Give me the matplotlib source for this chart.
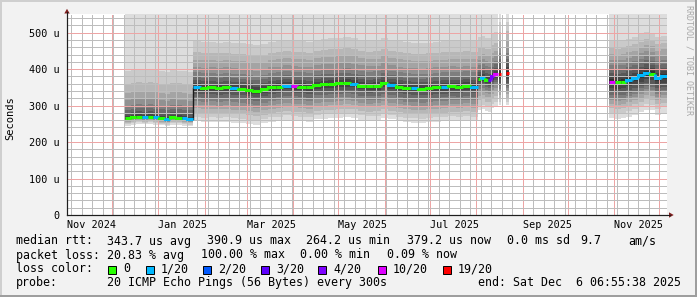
import numpy as np
import pandas as pd
import matplotlib.pyplot as plt
import matplotlib.dates as mdates
from matplotlib.ticker import MultipleLocator, FuncFormatter, NullFormatter
from matplotlib.patches import Rectangle, Polygon
from matplotlib.collections import LineCollection
from matplotlib.lines import Line2D

plt.rcParams['font.family'] = ['DejaVu Sans Mono']

# ---- data (median rtt in microseconds, loss as index into loss colours) ----
graph_start = '2024-11-01 06:55'
graph_end = '2025-12-06 06:55'

loss_colors = ['#26ff00', '#00b8ff', '#0059ff', '#5e00ff', '#7e00ff', '#dd00ff', '#ff0000']
loss_labels = ['0', '1/20', '2/20', '3/20', '4/20', '10/20', '19/20']

# segment A: Dec 2024 - Jan 2025
a_span = ('2024-12-09 23:00', '2025-01-24 07:00')
a_median = [265, 268, 270, 269, 270, 268, 266, 264, 268, 267, 265, 264]
a_loss = [0, 0, 0, 1, 0, 1, 0, 1, 0, 0, 1, 1]
a_pings = [-20, -16, -13, -10, -8, -6, -5, -4, -3, -1,
           1, 6, 14, 24, 34, 49, 69, 94, 129, 294]

# segment B: Jan 2025 - Aug 2025
b_span = ('2025-01-24 07:00', '2025-08-02 07:00')
b_median = [351, 349, 350, 348, 350, 347, 346, 343, 341, 345,
            350, 352, 355, 353, 352, 350, 356, 358, 359, 361,
            362, 360, 355, 353, 354, 361, 356, 352, 349, 347,
            346, 348, 350, 351, 353, 352, 354, 352]
b_loss = [1, 0, 0, 0, 0, 1, 0, 0, 0, 0,
          0, 0, 1, 5, 0, 0, 0, 0, 0, 0,
          0, 1, 0, 0, 0, 0, 1, 0, 0, 1,
          0, 0, 0, 1, 0, 0, 0, 1]
b_pings = [-94, -82, -70, -58, -48, -38, -28, -18, -10, -3,
           3, 10, 18, 28, 40, 55, 75, 95, 125, 210]

# segment C: early Aug 2025
c_span = ('2025-08-02 07:00', '2025-08-15 07:00')
c_median = [374, 377, 371, 370, 380, 386]
c_loss = [0, 1, 0, 3, 4, 5]
c_pings = [-87, -75, -60, -47, -37, -29, -21, -15, -9, -3,
           3, 10, 18, 27, 37, 50, 65, 85, 115, 185]

# two short bursts with 19/20 loss
d1_span = ('2025-08-16 12:00', '2025-08-17 14:00')
d1_median = [388]
d1_loss = [6]
d2_span = ('2025-08-20 23:00', '2025-08-23 05:00')
d2_median = [389]
d2_loss = [6]
d_pings = [-87, -78, -68, -58, -50, -42, -34, -26, -16, -6,
           6, 16, 28, 40, 55, 72, 92, 115, 140, 180]

# segment E: Nov 2025
e_span = ('2025-10-28 14:00', '2025-12-06 06:55')
e_median = [366, 364, 366, 371, 376, 383, 390, 388, 376, 380]
e_loss = [5, 0, 0, 1, 1, 1, 1, 0, 1, 1]
e_pings = [-101, -85, -72, -62, -52, -44, -36, -28, -18, -8,
           6, 14, 24, 34, 46, 60, 75, 92, 112, 200]

month_labels = ['Nov 2024', 'Jan 2025', 'Mar 2025', 'May 2025', 'Jul 2025', 'Sep 2025', 'Nov 2025']
label_months = ['2024-11-01', '2025-01-01', '2025-03-01', '2025-05-01', '2025-07-01', '2025-09-01', '2025-11-01']

# ---- figure ----
W, H = 697, 297
fig = plt.figure(figsize=(W / 100, H / 100), dpi=100, facecolor='#f2f2f2')


def fx(px):
    return px / W


def fy(py):
    return 1 - py / H


ax = fig.add_axes([fx(67), fy(215), 600 / W, (215 - 13.7) / H])
ax.set_facecolor('white')


def dnum(s):
    return mdates.date2num(pd.Timestamp(s).to_pydatetime())


def draw_segment(span, median, loss, pings):
    n = len(median)
    edges = np.linspace(dnum(span[0]), dnum(span[1]), n + 1)
    med = np.append(median, median[-1]).astype(float)
    # smoke: band j covers ping j .. ping 21-j, darker towards the middle
    for j in range(10):
        g = int(190 / 10 * (10 - (j + 1))) + 50
        col = '#%02x%02x%02x' % (g, g, g)
        ax.fill_between(edges, med + pings[j], med + pings[19 - j], step='post',
                        color=col, lw=0, zorder=1)
    segs, cols = [], []
    for i in range(n):
        prev = median[i - 1] if i > 0 else median[i]
        segs.append([(edges[i], prev), (edges[i], median[i]), (edges[i + 1], median[i])])
        cols.append(loss_colors[loss[i]])
    ax.add_collection(LineCollection(segs, colors=cols, linewidths=2.2,
                                     capstyle='butt', joinstyle='miter', zorder=4))


draw_segment(a_span, a_median, a_loss, a_pings)
draw_segment(b_span, b_median, b_loss, b_pings)
ax.plot([dnum(b_span[0])] * 2, [a_median[-1], b_median[0] - 2], color='#1a1a1a', lw=1, zorder=3)
draw_segment(c_span, c_median, c_loss, c_pings)
draw_segment(d1_span, d1_median, d1_loss, d_pings)
draw_segment(d2_span, d2_median, d2_loss, d_pings)
draw_segment(e_span, e_median, e_loss, e_pings)

ax.set_xlim(dnum(graph_start), dnum(graph_end))
ax.set_ylim(0, 552)

# grid (dotted, 1 px on / 1 px off)
ax.xaxis.set_major_locator(mdates.MonthLocator())
ax.xaxis.set_minor_locator(mdates.WeekdayLocator(byweekday=mdates.MO))
ax.xaxis.set_major_formatter(NullFormatter())
ax.yaxis.set_major_locator(MultipleLocator(100))
ax.yaxis.set_minor_locator(MultipleLocator(20))
ax.yaxis.set_major_formatter(FuncFormatter(lambda v, p: '0' if v == 0 else '%d u' % v))
ax.set_axisbelow(False)
ax.grid(which='major', color='#eda5a5', ls=(0, (1, 1)), lw=0.72, antialiased=False)
ax.grid(which='minor', color='#bdbdbd', ls=(0, (1, 1)), lw=0.72, antialiased=False)
ax.tick_params(which='both', length=0)
ax.tick_params(axis='y', labelsize=7.3, pad=5.5)

for s in ['top', 'right']:
    ax.spines[s].set_visible(False)
for s in ['left', 'bottom']:
    ax.spines[s].set_color('#1f1f1f')
    ax.spines[s].set_linewidth(0.8)
    ax.spines[s].set_zorder(5)

for lab, m in zip(month_labels, label_months):
    ax.annotate(lab, xy=(dnum(m) + 16.5, 0), xycoords=('data', 'axes fraction'),
                xytext=(0, -6.9), textcoords='offset points',
                ha='center', va='center', fontsize=7.3, annotation_clip=False)

# axis extensions with arrows
fig.add_artist(Line2D([fx(67), fx(67)], [fy(215), fy(12)], color='#1f1f1f', lw=0.8))
fig.add_artist(Line2D([fx(67), fx(670)], [fy(215), fy(215)], color='#1f1f1f', lw=0.8))
fig.add_artist(Polygon([(fx(64.3), fy(13.5)), (fx(69.7), fy(13.5)), (fx(67), fy(8.8))],
                       closed=True, color='#7f1f1f', lw=0))
fig.add_artist(Polygon([(fx(669), fy(212.3)), (fx(669), fy(217.7)), (fx(673.7), fy(215))],
                       closed=True, color='#7f1f1f', lw=0))

fig.text(fx(10.5), fy(118), 'Seconds', rotation=90, ha='center', va='center', fontsize=7.5)
fig.text(fx(688.5), fy(60), 'RRDTOOL / TOBI OETIKER', rotation=270, ha='center', va='center',
         fontsize=6, color='#a8a8a8')

# legend block
fs = 8.35
row1 = [(16, 'median rtt:'), (107.3, '343.7 us avg'), (206.7, '390.9 us max'), (306, '264.2 us min'),
        (406.7, '379.2 us now'), (506.7, '0.0 ms sd'), (580.7, '9.7'), (628.3, 'am/s')]
row2 = [(16, 'packet loss:'), (107.3, '20.83 % avg'), (201, '100.00 % max'), (300, '0.00 % min'),
        (386.7, '0.09 % now')]
row4 = [(16, 'probe:'), (107.3, '20 ICMP Echo Pings (56 Bytes) every 300s'),
        (478.3, 'end: Sat Dec  6 06:55:38 2025')]
for yc, row in [(241, row1), (255, row2), (282.7, row4)]:
    for xp, t in row:
        fig.text(fx(xp), fy(yc), t, ha='left', va='center', fontsize=fs)
fig.text(fx(16), fy(269), 'loss color:', ha='left', va='center', fontsize=fs)
box_x = [108.3, 145.7, 203, 261, 318.3, 377.7, 442.7]
for bx, c, lab in zip(box_x, loss_colors, loss_labels):
    fig.add_artist(Rectangle((fx(bx), fy(273.5)), 8 / W, 8 / H, facecolor=c,
                             edgecolor='black', lw=0.7))
    fig.text(fx(bx + 15), fy(269), lab, ha='left', va='center', fontsize=fs)

# 3d frame of the rrdtool canvas
fig.add_artist(Rectangle((0, 0), fx(2), 1, color='#cfcfcf', lw=0))
fig.add_artist(Rectangle((0, fy(2)), 1, 2 / H, color='#cfcfcf', lw=0))
fig.add_artist(Rectangle((fx(695), 0), 2 / W, 1, color='#9e9e9e', lw=0))
fig.add_artist(Rectangle((0, 0), 1, 2 / H, color='#9e9e9e', lw=0))

fig.savefig('out.png', dpi=100, facecolor=fig.get_facecolor())
